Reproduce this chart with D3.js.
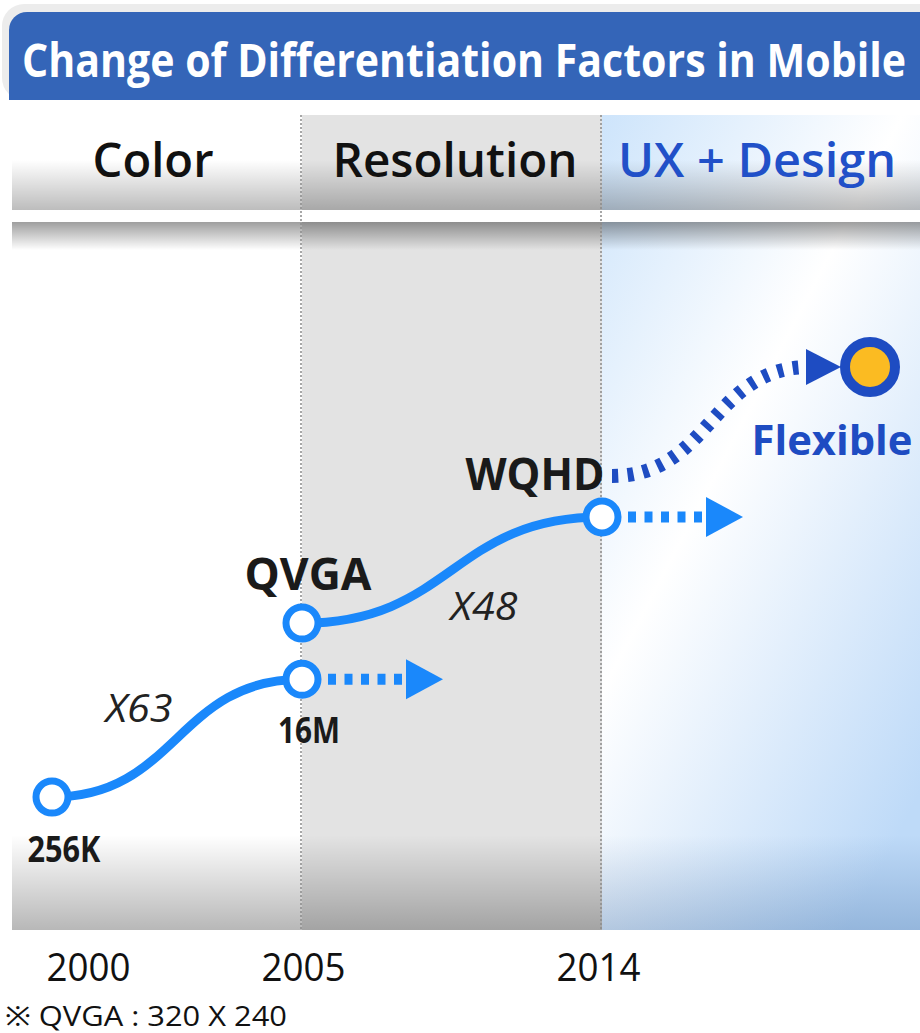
<!DOCTYPE html>
<html>
<head>
<meta charset="utf-8">
<script src="https://cdn.jsdelivr.net/npm/d3@7"></script>
<style>
  html, body { margin: 0; padding: 0; background: #fff; }
  svg { display: block; }
  text { font-family: "Open Sans", "Noto Sans", sans-serif; }
</style>
</head>
<body>
<div id="chart"></div>
<script>
// ---- data ----
var title = "Change of Differentiation Factors in Mobile";
var stages = ["Color", "Resolution", "UX + Design"];
var stageStart = [2000, 2005, 2014];
var yearTicks = [2000, 2005, 2014];
var colorSeries = [
  { year: 2000, level: 19.4, label: "256K" },
  { year: 2005, level: 36.6, label: "16M" }
];
var resolutionSeries = [
  { year: 2005, level: 44.8, label: "QVGA" },
  { year: 2014, level: 60.3, label: "WQHD" }
];
var nextFactor = { year: 2019, level: 82.2, label: "Flexible" };
var multipliers = ["X63", "X48"];
var footnote = "\u203B QVGA : 320 X 240";

var W = 920, H = 1033;
var LIGHT = "#1a88fb", DARK = "#1e4cc2";

var svg = d3.select("#chart").append("svg").attr("width", W).attr("height", H);
var defs = svg.append("defs");

var x = d3.scaleLinear().domain([2000, 2005, 2014, 2019]).range([52, 302, 602, 870]);
var y = d3.scaleLinear().domain([0, 100]).range([930, 245]);

var linGrad = function(id, x1, y1, x2, y2, stops, user){
  var g = defs.append("linearGradient").attr("id", id)
    .attr("x1", x1).attr("y1", y1).attr("x2", x2).attr("y2", y2);
  if (user) g.attr("gradientUnits", "userSpaceOnUse");
  stops.forEach(function(s){
    g.append("stop").attr("offset", s[0]).attr("stop-color", s[1]).attr("stop-opacity", s[2] === undefined ? 1 : s[2]);
  });
};
linGrad("blueBg", 602, 110, 1132, 386, [[0, "#cde4fb"], [0.45, "#ffffff"], [1, "#bedaf8"]], true);
linGrad("headShade", 0, 0, 0, 1, [[0, "#000", 0], [1, "#000", 0.26]]);
linGrad("dropShade", 0, 0, 0, 1, [[0, "#000", 0.38], [1, "#000", 0]]);
linGrad("bottomShade", 0, 0, 0, 1, [[0, "#000", 0], [1, "#000", 0.28]]);
linGrad("bottomBlue", 0, 0, 0, 1, [[0, "#2a5a95", 0], [1, "#2a5a95", 0.28]]);

// ---- title bar ----
svg.append("rect").attr("x", 2).attr("y", 4).attr("width", W + 20).attr("height", 96)
  .attr("rx", 22).attr("fill", "#ececec");
svg.append("rect").attr("x", 9).attr("y", 12).attr("width", W + 20).attr("height", 88)
  .attr("rx", 18).attr("fill", "#3465b8");
svg.append("rect").attr("x", 9).attr("y", 60).attr("width", W).attr("height", 40).attr("fill", "#3465b8");
var titleText = svg.append("text").attr("x", 0).attr("y", 0).attr("fill", "#fff")
  .attr("font-size", 46).attr("font-weight", 700).text(title);
// squeeze the title to fit the bar (condensed look)
var tw = titleText.node().getComputedTextLength();
titleText.attr("transform", "translate(22,77) scale(" + (884 / tw) + ",1)");

// ---- stage bands ----
var bandLeft = function(i){ return i === 0 ? 12 : x(stageStart[i]); };
var bandRight = function(i){ return i === stages.length - 1 ? W : x(stageStart[i + 1]); };
var bandFill = ["#ffffff", "#e3e3e3", "url(#blueBg)"];
var headLen = [121, 245, 278];

var bands = svg.append("g").selectAll("g").data(stages).enter().append("g");
// header cells
bands.append("rect")
  .attr("x", function(d, i){ return bandLeft(i); })
  .attr("y", function(d, i){ return i === 0 ? 104 : 115; })
  .attr("width", function(d, i){ return bandRight(i) - bandLeft(i); })
  .attr("height", function(d, i){ return i === 0 ? 106 : 95; })
  .attr("fill", function(d, i){ return bandFill[i]; });
bands.append("rect")
  .attr("x", function(d, i){ return bandLeft(i); })
  .attr("y", 160)
  .attr("width", function(d, i){ return bandRight(i) - bandLeft(i); })
  .attr("height", 50)
  .attr("fill", "url(#headShade)");
// body cells
bands.append("rect")
  .attr("x", function(d, i){ return bandLeft(i); })
  .attr("y", 222)
  .attr("width", function(d, i){ return bandRight(i) - bandLeft(i); })
  .attr("height", 708)
  .attr("fill", function(d, i){ return bandFill[i]; });
bands.append("rect")
  .attr("x", function(d, i){ return bandLeft(i); })
  .attr("y", 835)
  .attr("width", function(d, i){ return bandRight(i) - bandLeft(i); })
  .attr("height", 95)
  .attr("fill", function(d, i){ return i === 2 ? "url(#bottomBlue)" : "url(#bottomShade)"; });
bands.append("text")
  .attr("x", function(d, i){ return (bandLeft(i) + bandRight(i)) / 2 + (i === 1 ? 3 : -4); })
  .attr("y", 177)
  .attr("text-anchor", "middle")
  .attr("font-size", 47).attr("font-weight", 600)
  .attr("textLength", function(d, i){ return headLen[i]; }).attr("lengthAdjust", "spacingAndGlyphs")
  .attr("fill", function(d, i){ return i === 2 ? "#2150c8" : "#111"; })
  .text(function(d){ return d; });

// white strip + drop shadow under header
svg.append("rect").attr("x", 12).attr("y", 210).attr("width", W).attr("height", 12).attr("fill", "#fff");
svg.append("rect").attr("x", 12).attr("y", 222).attr("width", W).attr("height", 28).attr("fill", "url(#dropShade)");

// stage dividers
svg.append("g").selectAll("line").data(stageStart.slice(1)).enter().append("line")
  .attr("x1", function(d){ return x(d) - 1; }).attr("x2", function(d){ return x(d) - 1; })
  .attr("y1", 115).attr("y2", 930)
  .attr("stroke", "#8a8a8a").attr("stroke-width", 1.5).attr("stroke-dasharray", "2,2");

// ---- year axis ----
var axis = svg.append("g").attr("transform", "translate(0,945)")
  .call(d3.axisBottom(x).tickValues(yearTicks).tickFormat(d3.format("d")).tickSize(0));
axis.select(".domain").remove();
axis.selectAll("text")
  .attr("font-family", "'Open Sans', sans-serif").attr("font-size", 38)
  .attr("fill", "#111").attr("dy", 33)
  .attr("dx", function(d){ return d === 2000 ? 36 : (d === 2014 ? -4 : 1); })
  .attr("textLength", 84).attr("lengthAdjust", "spacingAndGlyphs");

svg.append("text").attr("x", 5).attr("y", 1026).attr("font-size", 28)
  .attr("fill", "#111").attr("textLength", 282).attr("lengthAdjust", "spacingAndGlyphs")
  .text(footnote);

// ---- connectors ----
var link = d3.linkHorizontal()
  .source(function(d){ return [x(d[0].year), y(d[0].level)]; })
  .target(function(d){ return [x(d[1].year), y(d[1].level)]; });

var plot = svg.append("g");
[colorSeries, resolutionSeries].forEach(function(s){
  plot.append("path").attr("d", link(s))
    .attr("fill", "none").attr("stroke", LIGHT).attr("stroke-width", 9);
});

// trend arrows from the latest point of each series
var trendEnds = [colorSeries[1], resolutionSeries[1]];
trendEnds.forEach(function(p){
  var px = x(p.year), py = y(p.level);
  plot.append("line").attr("x1", px + 26).attr("x2", px + 106).attr("y1", py).attr("y2", py)
    .attr("stroke", LIGHT).attr("stroke-width", 11).attr("stroke-dasharray", "8,8.5");
  plot.append("path")
    .attr("d", d3.line()([[px + 104, py - 20], [px + 141, py], [px + 104, py + 20]]))
    .attr("fill", LIGHT);
});

// dashed path to the next factor
var wq = resolutionSeries[1];
var fx = x(nextFactor.year), fy = y(nextFactor.level);
plot.append("path")
  .attr("d", d3.linkHorizontal()({ source: [x(wq.year) + 10, y(wq.level) - 41], target: [fx - 60, fy] }))
  .attr("fill", "none").attr("stroke", DARK).attr("stroke-width", 14).attr("stroke-dasharray", "6,9.5");
plot.append("path")
  .attr("d", d3.line()([[fx - 64, fy - 18], [fx - 29, fy], [fx - 64, fy + 18]]))
  .attr("fill", DARK);

// ---- markers ----
var pts = colorSeries.concat(resolutionSeries);
plot.selectAll("circle.pt").data(pts).enter().append("circle").attr("class", "pt")
  .attr("cx", function(d){ return x(d.year); }).attr("cy", function(d){ return y(d.level); })
  .attr("r", 16).attr("fill", "#fff").attr("stroke", LIGHT).attr("stroke-width", 7);
plot.append("circle").attr("cx", fx).attr("cy", fy).attr("r", 25)
  .attr("fill", "#fbbb22").attr("stroke", DARK).attr("stroke-width", 10);

// ---- labels ----
var labelPos = {
  "256K": { dx: 12, dy: 65, size: 36, len: 73 },
  "16M": { dx: 7, dy: 64, size: 36, len: 62 },
  "QVGA": { dx: 6, dy: -33, size: 44, len: 127 },
  "WQHD": { dx: -67, dy: -27, size: 44, len: 139 }
};
plot.selectAll("text.pl").data(pts).enter().append("text").attr("class", "pl")
  .attr("x", function(d){ return x(d.year) + labelPos[d.label].dx; })
  .attr("y", function(d){ return y(d.level) + labelPos[d.label].dy; })
  .attr("text-anchor", "middle").attr("font-weight", 700).attr("fill", "#1a1a1a")
  .attr("font-size", function(d){ return labelPos[d.label].size; })
  .attr("textLength", function(d){ return labelPos[d.label].len; })
  .attr("lengthAdjust", "spacingAndGlyphs")
  .text(function(d){ return d.label; });

plot.append("text").attr("x", fx - 38).attr("y", fy + 88).attr("text-anchor", "middle")
  .attr("font-size", 42).attr("font-weight", 700).attr("fill", DARK)
  .attr("textLength", 161).attr("lengthAdjust", "spacingAndGlyphs").text(nextFactor.label);

// growth multipliers at each segment middle
var multOff = [{ dx: -38, dy: -16 }, { dx: 32, dy: 50 }];
[colorSeries, resolutionSeries].forEach(function(s, i){
  var mx = (x(s[0].year) + x(s[1].year)) / 2, my = (y(s[0].level) + y(s[1].level)) / 2;
  plot.append("text").attr("x", mx + multOff[i].dx).attr("y", my + multOff[i].dy)
    .attr("text-anchor", "middle").attr("font-size", 38).attr("font-style", "italic")
    .attr("fill", "#222").attr("textLength", 67).attr("lengthAdjust", "spacingAndGlyphs")
    .text(multipliers[i]);
});
</script>
</body>
</html>
